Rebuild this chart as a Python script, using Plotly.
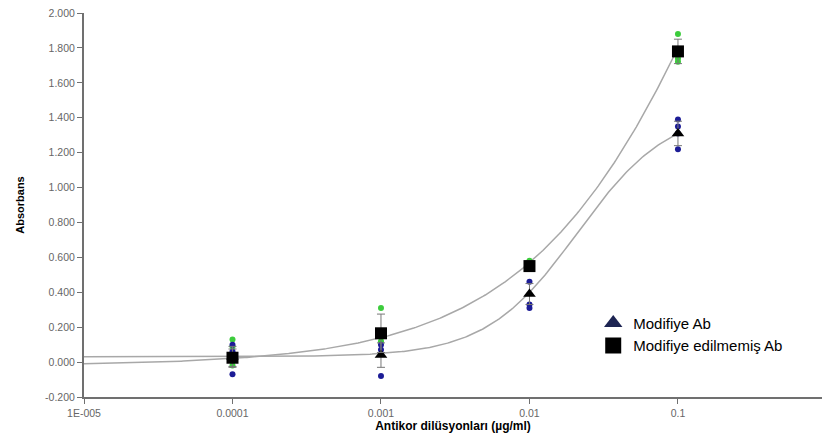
import numpy as np
import plotly.graph_objects as go

# ---- data ----
conc = [0.0001, 0.001, 0.01, 0.1]

mod_mean = [0.03, 0.04, 0.39, 1.31]
mod_err = [0.06, 0.07, 0.06, 0.07]
unmod_mean = [0.025, 0.165, 0.55, 1.78]
unmod_err = [0.05, 0.11, 0.03, 0.07]

green_x = [0.0001, 0.0001, 0.0001, 0.001, 0.001, 0.01, 0.01, 0.1, 0.1, 0.1]
green_y = [0.13, 0.09, -0.02, 0.31, 0.12, 0.58, 0.56, 1.88, 1.74, 1.72]
blue_x = [0.0001, 0.0001, 0.0001, 0.001, 0.001, 0.001, 0.01, 0.01, 0.01, 0.1, 0.1, 0.1, 0.1]
blue_y = [0.10, 0.06, -0.07, 0.10, 0.07, -0.08, 0.46, 0.33, 0.31, 1.39, 1.35, 1.31, 1.22]

# 4-parameter logistic fit parameters (bottom, top, EC50, hill)
mod_fit = [0.03, 1.45, 0.021, 1.41]
unmod_fit = [-0.02, 6.03, 0.408, 0.6]

x_ticks = [1e-5, 1e-4, 1e-3, 1e-2, 1e-1]
x_ticktext = ["1E-005", "0.0001", "0.001", "0.01", "0.1"]
y_ticks = [-0.2, 0.0, 0.2, 0.4, 0.6, 0.8, 1.0, 1.2, 1.4, 1.6, 1.8, 2.0]
y_ticktext = ["-0.200", "0.000", "0.200", "0.400", "0.600", "0.800", "1.000",
              "1.200", "1.400", "1.600", "1.800", "2.000"]


def fourpl(x, p):
    b, t, ec, h = p
    return b + (t - b) / (1.0 + (ec / x) ** h)


xc = np.logspace(-5, -1, 300)

fig = go.Figure()

curve_color = "#a8a8a8"
fig.add_trace(go.Scatter(x=xc, y=fourpl(xc, mod_fit), mode="lines",
                         line=dict(color=curve_color, width=1.5), showlegend=False, hoverinfo="skip"))
fig.add_trace(go.Scatter(x=xc, y=fourpl(xc, unmod_fit), mode="lines",
                         line=dict(color=curve_color, width=1.5), showlegend=False, hoverinfo="skip"))

# replicate points
fig.add_trace(go.Scatter(x=green_x, y=green_y, mode="markers",
                         marker=dict(color="#3ccc3c", size=6), showlegend=False))
fig.add_trace(go.Scatter(x=blue_x, y=blue_y, mode="markers",
                         marker=dict(color="#1c1c96", size=6), showlegend=False))

# means with error bars
fig.add_trace(go.Scatter(x=conc, y=mod_mean, mode="markers",
                         marker=dict(symbol="triangle-up", color="black", size=11),
                         error_y=dict(type="data", array=mod_err, color="#777777", thickness=1, width=4),
                         showlegend=False))
fig.add_trace(go.Scatter(x=conc, y=unmod_mean, mode="markers",
                         marker=dict(symbol="square", color="black", size=12),
                         error_y=dict(type="data", array=unmod_err, color="#777777", thickness=1, width=4),
                         showlegend=False))

# legend entries
fig.add_trace(go.Scatter(x=[None], y=[None], mode="markers", name="Modifiye Ab",
                         marker=dict(symbol="triangle-up", color="#1d2452", size=16)))
fig.add_trace(go.Scatter(x=[None], y=[None], mode="markers", name="Modifiye edilmemiş Ab",
                         marker=dict(symbol="square", color="black", size=16)))

fig.update_layout(
    width=824, height=442,
    margin=dict(l=84, r=2, t=13, b=45),
    plot_bgcolor="white", paper_bgcolor="white",
    font=dict(family="Liberation Sans, Arial, sans-serif"),
    legend=dict(x=0.69, y=0.235, xanchor="left", yanchor="top",
                font=dict(size=15, color="black"), bgcolor="rgba(0,0,0,0)",
                tracegroupgap=0, itemwidth=30),
    showlegend=True,
)

fig.update_xaxes(type="log", range=[-5, -0.03], tickvals=x_ticks, ticktext=x_ticktext,
                 showgrid=False, zeroline=False, showline=True, linecolor="#707070", linewidth=2,
                 ticks="outside", ticklen=5, tickcolor="#707070",
                 tickfont=dict(size=10.5, color="#666666"),
                 title=dict(text="<b>Antikor dilüsyonları (µg/ml)</b>", font=dict(size=12, color="black"),
                            standoff=2))
fig.update_yaxes(range=[-0.2, 2.0], tickvals=y_ticks, ticktext=y_ticktext,
                 showgrid=False, zeroline=False, showline=True, linecolor="#707070", linewidth=2,
                 ticks="outside", ticklen=5, tickcolor="#707070",
                 tickfont=dict(size=10.5, color="#666666"),
                 title=dict(text="<b>Absorbans</b>", font=dict(size=11, color="black"), standoff=18))

fig.write_html("out.html")
